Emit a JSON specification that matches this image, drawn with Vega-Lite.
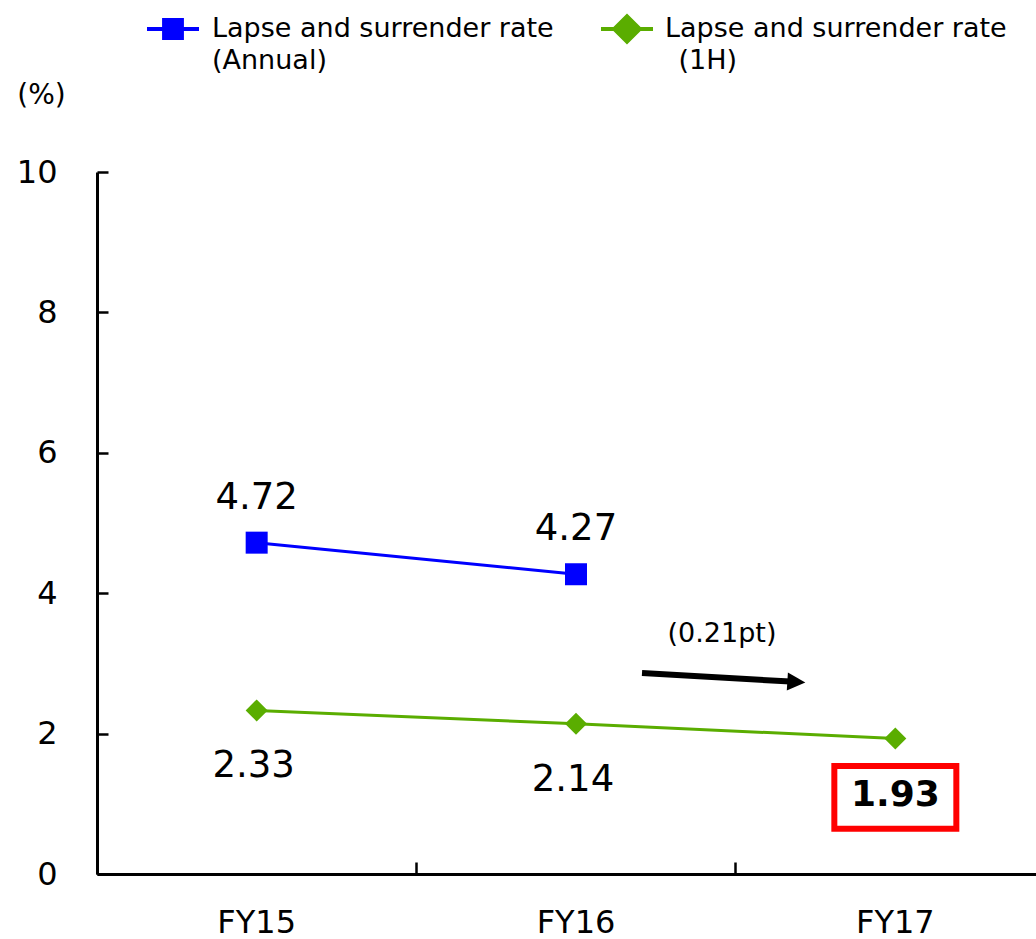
{
  "$schema": "https://vega.github.io/schema/vega-lite/v6.json",
  "width": 958,
  "height": 702,
  "autosize": "none",
  "padding": {"left": 97, "top": 172, "right": 0, "bottom": 65},
  "background": "white",
  "config": {
    "font": "DejaVu Sans",
    "view": {"stroke": null},
    "style": {"guide-label": {"lineHeight": 32}}
  },
  "datasets": {
    "rates": [
      {"fy": "FY15", "series": "Annual", "rate": 4.72},
      {"fy": "FY16", "series": "Annual", "rate": 4.27},
      {"fy": "FY15", "series": "1H", "rate": 2.33},
      {"fy": "FY16", "series": "1H", "rate": 2.14},
      {"fy": "FY17", "series": "1H", "rate": 1.93}
    ],
    "note": [{"label": "(0.21pt)"}]
  },
  "data": {"name": "rates"},
  "resolve": {"scale": {"shape": "independent"}, "legend": {"shape": "independent"}},
  "layer": [
    {
      "mark": {"type": "line", "strokeWidth": 3},
      "encoding": {
        "x": {
          "field": "fy", "type": "nominal",
          "scale": {"type": "band", "domain": ["FY15", "FY16", "FY17"], "paddingInner": 0, "paddingOuter": 0},
          "axis": {
            "title": null, "labelAngle": 0, "bandPosition": 0,
            "tickSize": -12, "tickWidth": 2.5, "tickColor": "black",
            "domainColor": "black", "domainWidth": 3,
            "labelFontSize": 32, "labelColor": "black", "labelPadding": 45, "labelBaseline": "top"
          }
        },
        "y": {
          "field": "rate", "type": "quantitative",
          "scale": {"domain": [0, 10], "nice": false, "zero": true},
          "axis": {
            "title": "(%)", "titleAngle": 0, "titleX": -56, "titleY": -77,
            "titleAlign": "center", "titleBaseline": "middle", "titleFontSize": 28,
            "titleFontWeight": "normal", "titleColor": "black",
            "values": [0, 2, 4, 6, 8, 10], "format": "d", "grid": false,
            "tickSize": -11, "tickWidth": 2.5, "tickColor": "black",
            "domainColor": "black", "domainWidth": 3,
            "labelFontSize": 32, "labelColor": "black", "labelPadding": 51
          }
        },
        "color": {
          "field": "series", "type": "nominal",
          "scale": {"domain": ["Annual", "1H"], "range": ["#0000ff", "#5aad00"]},
          "legend": null
        }
      }
    },
    {
      "transform": [{"filter": "datum.series === 'Annual'"}],
      "mark": {"type": "point", "shape": "square", "filled": true, "size": 484, "color": "#0000ff", "opacity": 1},
      "encoding": {
        "x": {"field": "fy", "type": "nominal"},
        "y": {"field": "rate", "type": "quantitative"}
      }
    },
    {
      "transform": [{"filter": "datum.series === '1H'"}],
      "mark": {"type": "point", "shape": "diamond", "filled": true, "size": 484, "color": "#5aad00", "opacity": 1},
      "encoding": {
        "x": {"field": "fy", "type": "nominal"},
        "y": {"field": "rate", "type": "quantitative"}
      }
    },
    {
      "transform": [{"filter": "datum.series === 'Annual'"}],
      "mark": {"type": "point", "filled": true, "color": "#0000ff", "opacity": 0},
      "encoding": {
        "x": {"field": "fy", "type": "nominal"},
        "y": {"field": "rate", "type": "quantitative"},
        "shape": {
          "field": "series", "type": "nominal",
          "scale": {"domain": ["Annual"], "range": ["M-1,-0.077H1V0.077H-1ZM-0.42,-0.42H0.42V0.42H-0.42Z"]},
          "legend": {
            "orient": "none", "legendX": 50, "legendY": -169,
            "title": null, "padding": 0,
            "symbolSize": 2704, "symbolStrokeWidth": 0,
            "symbolFillColor": "#0000ff", "symbolOpacity": 1,
            "labelOffset": 13, "labelFontSize": 27, "labelColor": "black", "labelLimit": 500,
            "labelExpr": "['Lapse and surrender rate', '(Annual)']"
          }
        }
      }
    },
    {
      "transform": [{"filter": "datum.series === '1H'"}],
      "mark": {"type": "point", "filled": true, "color": "#5aad00", "opacity": 0},
      "encoding": {
        "x": {"field": "fy", "type": "nominal"},
        "y": {"field": "rate", "type": "quantitative"},
        "shape": {
          "field": "series", "type": "nominal",
          "scale": {"domain": ["1H"], "range": ["M-1,-0.077H1V0.077H-1ZM0,-0.6L0.6,0L0,0.6L-0.6,0Z"]},
          "legend": {
            "orient": "none", "legendX": 504, "legendY": -169,
            "title": null, "padding": 0,
            "symbolSize": 2704, "symbolStrokeWidth": 0,
            "symbolFillColor": "#5aad00", "symbolOpacity": 1,
            "labelOffset": 12, "labelFontSize": 27, "labelColor": "black", "labelLimit": 500,
            "labelExpr": "['Lapse and surrender rate', '\u200b\u2002(1H)']"
          }
        }
      }
    },
    {
      "transform": [{"filter": "datum.series === 'Annual'"}],
      "mark": {"type": "text", "fontSize": 37, "baseline": "alphabetic", "dy": -34, "color": "black"},
      "encoding": {
        "x": {"field": "fy", "type": "nominal"},
        "y": {"field": "rate", "type": "quantitative"},
        "text": {"field": "rate", "type": "quantitative", "format": ".2f"}
      }
    },
    {
      "transform": [{"filter": "datum.series === '1H' && datum.fy !== 'FY17'"}],
      "mark": {"type": "text", "fontSize": 37, "baseline": "alphabetic", "dy": 67, "dx": -3, "color": "black"},
      "encoding": {
        "x": {"field": "fy", "type": "nominal"},
        "y": {"field": "rate", "type": "quantitative"},
        "text": {"field": "rate", "type": "quantitative", "format": ".2f"}
      }
    },
    {
      "transform": [{"filter": "datum.fy === 'FY17'"}],
      "mark": {"type": "text", "fontSize": 36, "fontWeight": "bold", "baseline": "alphabetic", "dy": 67, "color": "black"},
      "encoding": {
        "x": {"field": "fy", "type": "nominal"},
        "y": {"field": "rate", "type": "quantitative"},
        "text": {"field": "rate", "type": "quantitative", "format": ".2f"}
      }
    },
    {
      "transform": [{"filter": "datum.fy === 'FY17'"}],
      "mark": {"type": "point", "shape": "M-1,0.45H1V1.48H-1Z", "size": 14884, "filled": false, "stroke": "#ff0000", "strokeWidth": 6, "opacity": 1},
      "encoding": {
        "x": {"field": "fy", "type": "nominal"},
        "y": {"field": "rate", "type": "quantitative"}
      }
    },
    {
      "data": {"name": "note"},
      "mark": {"type": "rule", "color": "black", "strokeWidth": 6, "xOffset": 66, "x2Offset": -105},
      "encoding": {
        "x": {"datum": "FY16", "type": "nominal"},
        "x2": {"datum": "FY17"},
        "y": {"datum": 2.863, "type": "quantitative"},
        "y2": {"datum": 2.742}
      }
    },
    {
      "data": {"name": "note"},
      "mark": {"type": "point", "shape": "M1,0L-1,-1L-1,1Z", "size": 324, "filled": true, "color": "black", "opacity": 1, "angle": 3.5, "xOffset": -99},
      "encoding": {
        "x": {"datum": "FY17", "type": "nominal"},
        "y": {"datum": 2.735, "type": "quantitative"}
      }
    },
    {
      "data": {"name": "note"},
      "mark": {"type": "text", "fontSize": 27, "baseline": "alphabetic", "dx": 146, "color": "black"},
      "encoding": {
        "x": {"datum": "FY16", "type": "nominal"},
        "y": {"datum": 3.3, "type": "quantitative"},
        "text": {"field": "label", "type": "nominal"}
      }
    }
  ]
}
